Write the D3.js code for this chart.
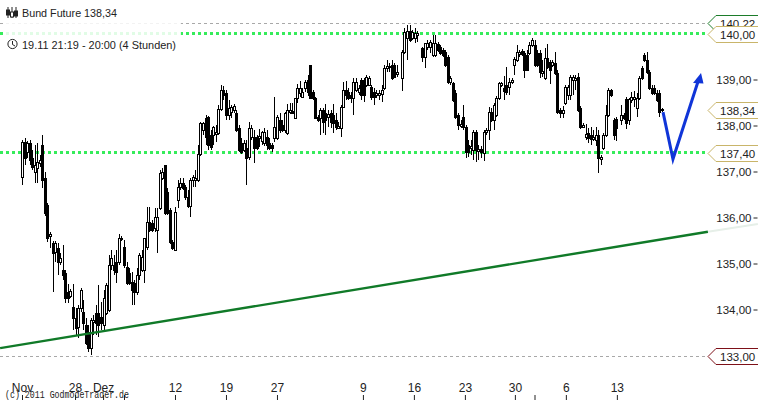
<!DOCTYPE html>
<html><head><meta charset="utf-8">
<script src="https://cdn.jsdelivr.net/npm/d3@7/dist/d3.min.js"></script>
<style>html,body{margin:0;padding:0;background:#fff;overflow:hidden}svg{display:block}text{font-family:"Liberation Sans",Arial,sans-serif;fill:#222}</style>
</head><body><svg id="c" width="758" height="400"></svg>
<script>
const title="Bund Future 138,34";
const subtitle="19.11 21:19 - 20:00 (4 Stunden)";
const copyright="(c) 2011 GodmodeTrader.de";
const opens=[
136.88,137.64,137.42,137.62,137.29,136.99,137.08,137.19,137.58,136.86,
136.27,135.60,135.45,135.25,135.34,135.03,134.86,134.79,134.38,134.29,
134.05,133.81,133.62,134.03,133.95,133.66,133.51,133.16,133.73,133.92,
133.92,133.84,133.66,133.92,133.99,134.97,134.97,135.03,135.03,135.53,
135.36,134.92,134.79,134.60,134.58,134.38,134.75,134.86,134.86,135.36,
135.90,135.88,135.77,135.73,136.21,136.86,137.14,136.55,136.16,135.47,
135.29,136.38,136.66,136.75,136.66,136.45,136.25,136.82,136.82,136.82,
137.38,137.90,138.16,138.19,137.79,137.79,137.82,137.84,138.36,138.77,
138.71,138.23,138.29,138.34,138.27,137.95,137.62,137.47,137.51,137.32,
137.75,137.75,137.75,137.73,137.66,137.62,137.75,137.62,137.58,137.73,
137.73,138.12,138.01,137.90,137.84,138.29,138.31,138.16,138.60,138.71,
138.62,138.81,138.99,139.31,138.73,138.60,138.19,138.16,138.34,138.27,
138.19,138.27,138.23,138.12,137.95,137.95,138.40,138.77,138.73,138.66,
138.60,138.77,138.73,138.99,138.99,138.88,138.88,138.84,138.73,138.66,
138.66,138.69,138.81,139.25,139.27,139.31,139.31,139.12,null,139.03,
139.60,139.90,140.05,139.90,139.90,139.97,null,139.68,139.49,139.71,
139.71,139.53,139.53,139.77,139.71,139.64,139.60,139.49,138.95,138.92,
138.71,138.23,137.99,138.19,137.97,137.58,137.51,137.47,137.86,137.45,
137.49,137.40,137.86,137.90,138.29,138.12,138.23,138.60,138.88,138.81,
138.88,138.84,138.95,139.31,139.42,139.55,139.62,139.58,139.53,139.58,
139.75,139.75,139.58,139.58,139.14,139.03,139.47,139.38,139.31,139.36,
139.14,138.34,138.27,138.49,138.66,138.66,138.99,138.99,139.05,138.38,
137.97,137.75,137.84,137.79,137.71,137.68,137.79,137.27,137.51,137.79,
138.23,138.77,138.12,138.14,null,138.12,138.23,138.58,138.12,138.55,
138.58,138.38,138.60,139.25,139.53,139.42,139.16,138.81,138.81,138.71,
138.71,138.36];
const closes=[
137.64,137.29,137.62,137.25,137.10,137.14,137.21,137.25,136.82,136.10,
135.55,135.64,135.23,135.45,135.03,135.12,134.75,134.25,134.25,134.40,
133.81,133.60,134.03,134.42,133.71,133.27,133.16,133.77,133.77,133.71,
133.66,133.71,134.25,134.53,134.97,135.12,134.86,134.81,135.55,135.55,
134.97,134.58,134.58,134.42,134.38,134.75,135.18,135.14,135.55,135.90,
135.73,135.73,136.01,136.01,136.97,136.99,136.10,136.10,135.47,135.34,
136.12,136.66,136.75,136.64,136.45,136.25,136.82,136.88,136.86,137.38,
138.05,138.05,137.75,137.58,137.53,137.97,137.86,138.36,138.77,138.66,
138.23,138.38,138.40,138.42,137.90,137.47,137.42,137.62,137.29,137.95,
137.95,137.51,137.51,137.77,137.86,137.86,137.58,137.51,137.51,137.97,
138.19,137.90,137.90,138.27,138.34,138.34,138.27,138.60,138.81,138.81,
138.73,138.95,138.73,138.60,138.60,138.16,138.12,138.34,138.08,138.12,
138.25,138.08,138.05,137.97,137.99,138.40,138.77,138.66,138.60,138.60,
138.95,138.95,138.81,138.66,138.66,139.05,139.03,138.62,138.62,138.71,
138.71,138.77,139.25,139.29,139.29,139.03,139.05,139.16,null,139.60,
140.03,140.05,139.86,140.03,140.01,140.01,null,139.49,139.79,139.79,
139.82,139.79,139.79,139.64,139.58,139.53,139.31,138.95,139.03,138.55,
138.19,138.01,138.03,137.97,137.42,137.42,137.55,137.86,137.47,137.49,
137.42,137.86,137.90,138.29,138.12,138.45,138.60,138.92,138.92,138.75,
138.73,138.95,138.99,139.45,139.60,139.60,139.55,139.21,139.21,139.75,
139.86,139.31,139.31,139.16,139.19,139.47,139.27,139.21,139.38,139.14,
138.29,138.27,138.34,138.84,138.84,139.05,139.05,139.03,138.34,137.97,
138.01,137.82,137.73,137.71,137.75,137.79,137.29,137.32,137.79,138.23,
138.77,138.66,137.79,137.95,null,138.23,138.16,138.05,138.58,138.62,
138.62,138.60,139.03,139.03,139.42,139.16,138.81,138.71,138.71,138.55,
138.29,138.34];
const highs=[
137.68,137.73,137.66,137.68,137.47,137.58,137.62,137.36,137.79,136.99,
136.32,135.69,135.49,135.49,135.45,135.23,135.40,134.86,134.55,134.45,
134.55,134.03,134.10,134.47,134.21,133.81,133.66,133.81,133.88,134.10,
134.53,134.16,134.42,134.58,135.18,135.29,135.18,135.29,135.64,135.60,
135.51,135.03,134.90,134.81,134.64,134.90,135.23,135.29,135.55,136.23,
136.23,135.95,136.21,136.21,137.03,137.08,137.14,136.64,136.21,135.51,
136.23,136.82,136.86,136.86,136.71,136.60,136.86,136.92,137.03,137.58,
138.08,138.08,138.23,138.21,137.90,137.99,138.01,138.45,138.88,138.86,
138.77,138.55,138.45,138.47,138.34,138.01,137.73,137.68,137.68,138.08,
138.01,137.90,137.79,137.92,137.88,137.95,137.90,137.73,137.62,138.62,
138.23,138.27,138.12,138.29,138.47,138.49,138.49,138.60,138.90,138.97,
138.81,138.99,139.10,139.31,138.77,138.62,138.23,138.38,138.38,138.47,
138.34,138.34,138.47,138.27,138.08,138.45,138.95,138.97,138.81,138.73,
139.03,139.03,138.88,139.03,139.03,139.10,139.08,138.88,138.81,138.77,
138.77,138.88,139.31,139.42,139.36,139.42,139.36,139.31,null,139.64,
140.12,140.18,140.18,140.08,140.12,140.05,null,139.71,139.79,139.86,
139.86,139.97,139.97,139.82,139.75,139.68,139.64,139.53,139.08,138.95,
138.77,138.27,138.12,138.45,138.01,137.68,137.68,137.90,137.90,137.58,
137.55,137.90,137.95,138.40,138.38,138.49,138.64,138.95,138.95,139.08,
139.27,139.03,139.03,139.49,139.75,139.64,139.66,139.62,139.64,139.82,
139.90,139.86,139.64,139.64,139.42,139.68,139.77,139.42,139.42,139.60,
139.21,138.38,138.42,138.88,138.88,139.10,139.10,139.10,139.14,138.42,
138.05,138.03,137.95,137.97,137.90,137.97,137.90,137.36,137.84,138.45,
138.81,138.79,138.16,138.19,null,138.45,138.27,138.62,138.60,138.73,
138.75,138.71,139.08,139.29,139.58,139.60,139.21,138.88,138.88,138.77,
138.77,138.38];
const lows=[
136.71,137.14,137.29,137.14,137.03,136.75,136.75,137.10,136.64,136.03,
135.47,135.34,134.38,135.03,134.75,134.97,134.64,134.14,134.14,134.25,
133.55,133.45,133.38,133.95,133.55,133.23,133.08,133.01,133.45,133.45,
133.40,133.55,133.55,133.88,133.95,134.86,134.75,134.58,134.97,135.49,
134.90,134.53,134.53,134.10,134.10,134.31,134.64,134.81,134.58,135.29,
135.69,135.69,135.69,135.23,136.16,136.82,136.05,136.05,135.42,135.29,
135.27,136.21,136.60,136.60,136.38,136.21,136.01,136.66,136.66,136.77,
137.34,137.79,137.58,137.47,137.47,137.58,137.64,137.79,138.31,138.55,
138.12,138.12,138.16,138.27,137.86,137.42,137.38,137.42,136.71,137.25,
137.68,137.19,137.47,137.53,137.58,137.55,137.47,137.47,137.42,137.64,
137.68,137.84,137.86,137.84,137.79,138.25,138.25,138.14,138.49,138.62,
138.60,138.73,138.64,138.58,138.55,138.14,138.08,137.79,137.84,137.79,
137.97,137.95,137.84,137.90,137.92,137.75,138.38,138.55,138.55,138.49,
138.23,138.73,138.66,138.55,138.51,138.84,138.86,138.55,138.45,138.60,
138.55,138.51,138.77,139.16,139.16,138.99,139.03,139.05,null,138.75,
139.55,139.42,139.82,139.86,139.79,139.82,null,139.38,139.25,139.64,
139.58,139.49,139.49,139.60,139.53,139.49,139.27,138.90,138.88,138.51,
138.14,137.90,137.95,137.90,137.29,137.32,137.36,137.25,137.21,137.25,
137.29,137.23,137.79,137.68,138.08,137.90,138.19,138.55,138.84,138.55,
138.66,138.66,138.90,139.10,139.38,139.49,139.51,139.03,139.19,139.53,
139.71,139.27,139.27,139.03,139.05,138.99,139.23,138.90,139.27,139.10,
138.25,138.16,138.16,138.45,138.55,138.55,138.66,138.77,138.29,137.92,
137.95,137.68,137.62,137.58,137.66,137.55,136.97,137.14,137.47,137.75,
138.19,138.62,137.68,137.66,null,138.01,138.12,137.92,138.01,138.49,
138.40,138.19,138.55,138.99,139.38,139.12,138.77,138.66,138.66,138.51,
138.19,138.29];
const lastSlot=251;
const weekTicks=[0,20.8,31.8,40,60,80,100,133.7,153.7,173.7,193.3,201,213.3,233.3];
const weekLabels=["Nov","28","Dez","","12","19","27","9","16","23","30","","6","13"];
const priceTicks=[134,135,136,137,138,139];
const dottedLevels=[140,137.4];
const dashedLevels=[140.22,133];
const tagValues=[140.22,140,138.34,137.4,133];
const tagColors=["#1c7c2a","#c9b56a","#c9b56a","#c9b56a","#7d1018"];
const trendSlots=[-8.6,269];
const trendPrices=[133.16,135.69];
const fadeSlots=[269,288.6];
const fadePrices=[135.69,135.86];
const arrowSlots=[251.4,255.3,265.1];
const arrowPrices=[138.29,137.27,138.95];
const arrowTip=[266.3,139.14];

const fmt=v=>d3.format(".2f")(v).replace(".",",");
const svg=d3.select("#c");
const x=d3.scaleLinear().domain([0,lastSlot]).range([22,662]);
const y=d3.scaleLinear().domain([140,133]).range([33.5,355.5]);

// levels
svg.selectAll(".dash").data(dashedLevels).join("line").attr("x1",0).attr("x2",708)
  .attr("y1",d=>Math.round(y(d))+.5).attr("y2",d=>Math.round(y(d))+.5)
  .attr("stroke","#a8a8a8").attr("stroke-dasharray","3 3");
svg.selectAll(".dot").data(dottedLevels).join("line").attr("x1",0).attr("x2",708)
  .attr("y1",d=>Math.round(y(d))-.5).attr("y2",d=>Math.round(y(d))-.5)
  .attr("stroke","#35ec5a").attr("stroke-width",3).attr("stroke-dasharray","3 3");

// fade behind header
svg.append("rect").attr("x",3).attr("y",20).attr("width",178).attr("height",34).attr("fill","#fff").attr("opacity",.85);

// trend
const ln=d3.line().x(d=>x(d[0])).y(d=>y(d[1]));
svg.append("path").attr("d",ln(d3.zip(fadeSlots,fadePrices))).attr("stroke","#e6efe8").attr("stroke-width",2).attr("fill","none");

// candles
const idx=d3.range(opens.length).filter(i=>opens[i]!==null);
const px=i=>Math.round(x(i))+.5;
const g=svg.append("g").attr("shape-rendering","crispEdges");
idx.forEach(i=>{
  const up=closes[i]>=opens[i];
  g.append("line").attr("x1",px(i)).attr("x2",px(i)).attr("y1",y(highs[i])).attr("y2",y(lows[i])).attr("stroke","#000");
  const t=Math.round(y(Math.max(opens[i],closes[i])))+.5, b=Math.round(y(Math.min(opens[i],closes[i])))+.5;
  g.append("rect").attr("x",px(i)-1).attr("width",2).attr("y",t).attr("height",Math.max(b-t,1))
   .attr("fill",up?"#fff":"#000").attr("stroke","#000");
});

svg.append("path").attr("d",ln(d3.zip(trendSlots,trendPrices))).attr("stroke","#107a28").attr("stroke-width",2.4).attr("fill","none");

// blue arrow
svg.append("path").attr("d",ln(d3.zip(arrowSlots,arrowPrices))).attr("stroke","#1035d8").attr("stroke-width",3).attr("fill","none");
const tx=x(arrowTip[0]),ty=y(arrowTip[1]);
svg.append("path").attr("d",`M${tx},${ty}L${tx-8},${ty+10}L${tx+2.5},${ty+10.5}Z`).attr("fill","#1035d8");

// axes
const ax=svg.append("g").attr("transform","translate(0,400)")
 .call(d3.axisTop(x).tickValues(weekTicks).tickFormat((d,i)=>weekLabels[i]).tickSize(5).tickPadding(3));
ax.select(".domain").remove();
ax.selectAll("text").attr("font-size",12).attr("font-family","Liberation Sans").style("fill","#222");
ax.selectAll("line").attr("stroke","#222");
const ay=svg.append("g").attr("transform","translate(757.5,0)")
 .call(d3.axisLeft(y).tickValues(priceTicks).tickFormat(fmt).tickSize(4).tickPadding(2));
ay.select(".domain").remove();
ay.selectAll("text").attr("font-size",11.5).attr("font-family","Liberation Sans").style("fill","#222");
ay.selectAll("line").attr("stroke","#222");

// tags
const tags=svg.selectAll(".tag").data(tagValues).join("g").attr("transform",d=>`translate(0,${Math.round(y(d))+.5})`);
tags.append("path").attr("d","M708,0L716,-8H760V8H716Z").attr("fill","#fff").attr("stroke",(d,i)=>tagColors[i]);
tags.append("text").attr("x",720).attr("y",4.5).attr("font-size",11.5).text(fmt);

// copyright
svg.append("text").attr("x",5).attr("y",398).attr("font-size",10).style("font-family","Liberation Mono").attr("textLength",124).attr("lengthAdjust","spacingAndGlyphs").text(copyright);

// header
svg.append("text").attr("x",22).attr("y",17).attr("font-size",11.5).attr("textLength",95).attr("lengthAdjust","spacingAndGlyphs").text(title);
svg.append("text").attr("x",22).attr("y",49).attr("font-size",11.5).attr("textLength",154).attr("lengthAdjust","spacingAndGlyphs").text(subtitle);
const ic=svg.append("g").attr("stroke","#222").attr("fill","none");
[8,12,16].forEach((cx,i)=>{ic.append("line").attr("x1",cx).attr("x2",cx).attr("y1",7).attr("y2",18);
 ic.append("rect").attr("x",cx-1.5).attr("y",[10,12,11][i]).attr("width",3).attr("height",5).attr("fill",i==1?"#fff":"#222");});
ic.append("circle").attr("cx",12.5).attr("cy",44).attr("r",4.6);
ic.append("path").attr("d","M12.5,41V44.5L15,46");
</script></body></html>
